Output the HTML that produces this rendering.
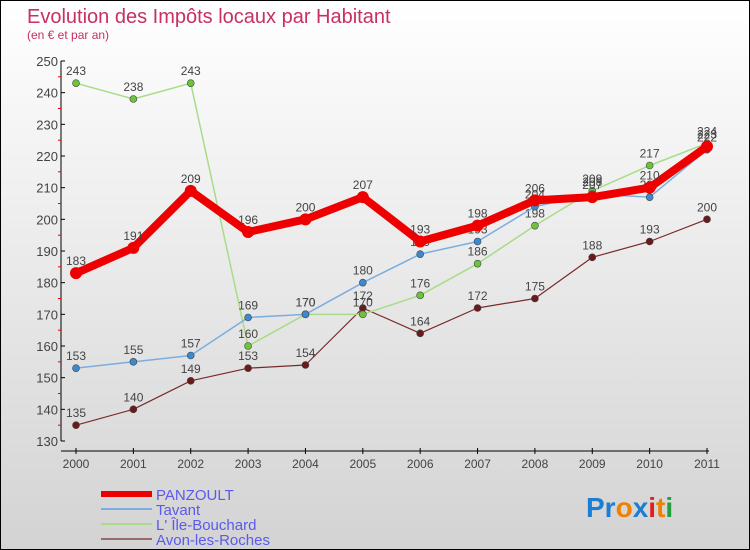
<!DOCTYPE html>
<html><head><meta charset="utf-8"><style>
body{margin:0}
#c{width:750px;height:550px;position:relative;box-sizing:border-box;border:1px solid #000;background:linear-gradient(#fff,#d3d3d3);font-family:"Liberation Sans",sans-serif;overflow:hidden}
svg{position:absolute;left:0;top:0}
</style></head><body>
<div id="c">
<svg id="s" width="750" height="550">
<text x="26" y="22" font-size="20" fill="#c8305f">Evolution des Impôts locaux par Habitant</text>
<text x="26" y="38" font-size="12" fill="#c8305f">(en € et par an)</text>
<text x="585" y="516" font-size="28" font-weight="bold"><tspan fill="#1a7fd4">Pr</tspan><tspan fill="#f08000">o</tspan><tspan fill="#1a7fd4">x</tspan><tspan fill="#e02020">i</tspan><tspan fill="#f08000">t</tspan><tspan fill="#20a040">i</tspan></text>
</svg>
</div>
<script>
const years=[2000,2001,2002,2003,2004,2005,2006,2007,2008,2009,2010,2011];
const yTicks=[130,140,150,160,170,180,190,200,210,220,230,240,250];
const panzoult=[183,191,209,196,200,207,193,198,206,207,210,223];
const tavant=[153,155,157,169,170,180,189,193,204,208,207,222];
const ileBouchard=[243,238,243,160,170,170,176,186,198,209,217,224];
const avon=[135,140,149,153,154,172,164,172,175,188,193,200];
const NS="http://www.w3.org/2000/svg";
const s=document.getElementById('s');
const X=i=>75+i*(706-75)/11;
const Y=v=>440-(v-130)*380/120;
function mk(t,a,p){const e=document.createElementNS(NS,t);for(const k in a)e.setAttribute(k,a[k]);(p||s).appendChild(e);return e;}
// axes
let ax=mk('line',{x1:60,y1:60,x2:60,y2:440,stroke:'#000'});


let bx=mk('line',{x1:60,y1:450,x2:708,y2:450,stroke:'#000'});


yTicks.forEach((v,i)=>{
  mk('line',{x1:60,y1:Y(v),x2:64,y2:Y(v),stroke:'#000'});
  if(i<yTicks.length-1)mk('line',{x1:57,y1:Y(v+5),x2:60,y2:Y(v+5),stroke:'#e00'});
  const t=mk('text',{x:57,y:Y(v)+5,'text-anchor':'end','font-size':13,fill:'#444'});
  t.textContent=v;
  
  
});
years.forEach((y,i)=>{
  mk('line',{x1:X(i),y1:447,x2:X(i),y2:453,stroke:'#000'});
  const t=mk('text',{x:X(i),y:467,'text-anchor':'middle','font-size':12,fill:'#444'});
  t.textContent=y;
  
  
});
const series=[
 {d:avon,c:'#7a2a2a',f:'#6b1a1a',w:1.2,r:3.5,n:'avon-les-roches'},
 {d:ileBouchard,c:'#a8dc88',f:'#6cc43a',w:1.5,r:3.5,n:'ile-bouchard'},
 {d:tavant,c:'#7aaee0',f:'#3a8ad0',w:1.5,r:3.5,n:'tavant'},
 {d:panzoult,c:'#ee0000',f:'#ee0000',w:8,r:6,n:'panzoult'}];
series.forEach(se=>{
  const g=mk('g',{});
  
  
  const p=mk('polyline',{points:se.d.map((v,i)=>X(i)+','+Y(v)).join(' '),fill:'none',stroke:se.c,'stroke-width':se.w,'stroke-linejoin':'round'},g);
  
  
  se.d.forEach((v,i)=>{
    const c=mk('circle',{cx:X(i),cy:Y(v),r:se.r,fill:se.f,stroke:'#444','stroke-width':se.w>2?0:0.6},g);
    
    
    const t=mk('text',{x:X(i),y:Y(v)-8,'text-anchor':'middle','font-size':12,fill:'#444'},g);
    t.textContent=v;
    
    
  });
});
const leg=[['PANZOULT','#ee0000',6],['Tavant','#7aaee0',2],["L' Île-Bouchard",'#a8dc88',2],['Avon-les-Roches','#9a6a6a',2]];
leg.forEach((l,i)=>{
  const y=493+i*15;
  const g=mk('g',{});
  
  
  mk('line',{x1:100,y1:y,x2:151,y2:y,stroke:l[1],'stroke-width':l[2]},g);
  const t=mk('text',{x:155,y:y+6,'font-size':15,fill:'#5a5aee'},g);
  t.textContent=l[0];
});
</script>
</body></html>
